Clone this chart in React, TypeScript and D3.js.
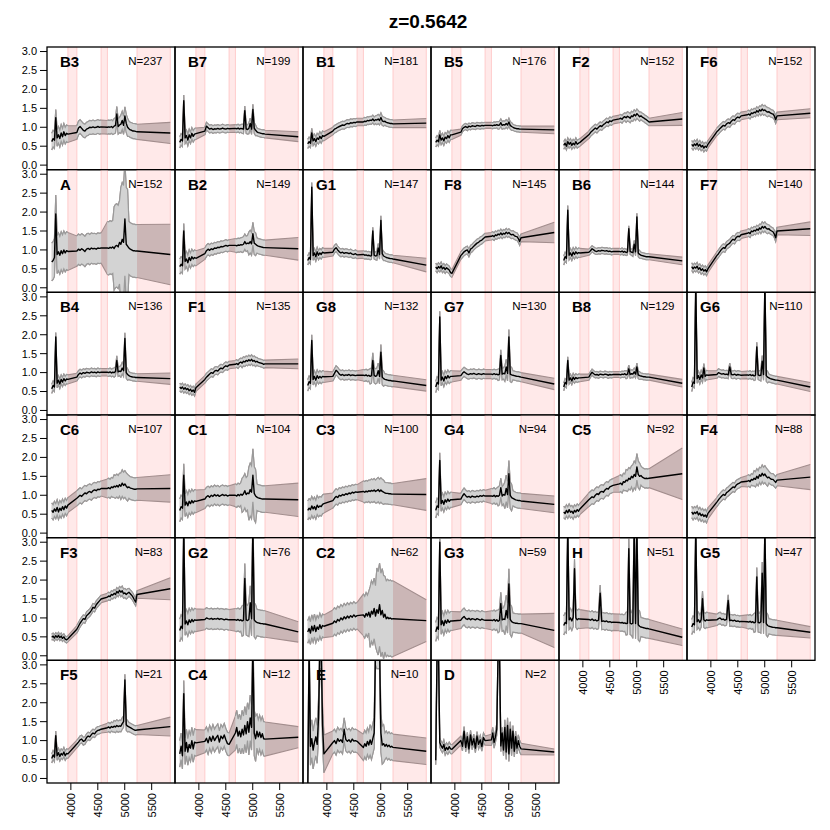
import React from 'react';
import * as d3 from 'd3';

// ---- data ----
const figureTitle = 'z=0.5642';

const groupNames = [
  'B3', 'B7', 'B1', 'B5', 'F2', 'F6',
  'A', 'B2', 'G1', 'F8', 'B6', 'F7',
  'B4', 'F1', 'G8', 'G7', 'B8', 'G6',
  'C6', 'C1', 'C3', 'G4', 'C5', 'F4',
  'F3', 'G2', 'C2', 'G3', 'H', 'G5',
  'F5', 'C4', 'E', 'D',
];
const groupCounts = [
  237, 199, 181, 176, 152, 152,
  152, 149, 147, 145, 144, 140,
  136, 135, 132, 130, 129, 110,
  107, 104, 100, 94, 92, 88,
  83, 76, 62, 59, 51, 47,
  21, 12, 10, 2,
];

// sampled wavelengths (Angstrom): blue piece, middle piece, red piece, far end
const blueWaves = [3645, 3670, 3695, 3720, 3745, 3770, 3795, 3820, 3845, 3870, 3895, 3920, 3945];
const midWaves = [4111, 4141, 4171, 4201, 4231, 4261, 4291, 4321, 4351, 4381, 4411, 4441, 4471, 4501, 4531, 4561];
const redWaves = [4678, 4703, 4728, 4753, 4778, 4803, 4828, 4853, 4878, 4903, 4928, 4953, 4978, 5003, 5028, 5053, 5078, 5103, 5128, 5153, 5178, 5203, 5228];
const tailWave = [5845];

const maskedBands = [[3945, 4111], [4561, 4678], [5228, 5845]];
const redSigmaBreaks = [4790, 4915, 5065];
const yTickValues = [0, 0.5, 1, 1.5, 2, 2.5, 3];
const xTickValues = [4000, 4500, 5000, 5500];

// mean flux per group (blue 13 | mid 16 | red 23 | end 1)
const meanFlux: number[][] = [
  // B3
  [0.62, 0.70, 0.66, 1.25, 0.72, 0.80, 0.70, 0.85, 0.75, 0.88, 0.78, 0.84, 0.82,
    0.86, 0.98, 1.02, 0.97, 0.92, 0.90, 0.95, 0.97, 1.00, 0.99, 1.01, 0.99, 1.00, 1.02, 1.00, 1.01,
    1.00, 1.01, 1.00, 1.02, 0.99, 1.03, 1.05, 1.35, 1.02, 1.06, 1.08, 1.18, 1.05, 1.30, 1.10, 1.00, 0.96, 0.93, 0.92, 0.90, 0.90, 0.89, 0.88,
    0.85],
  // B7
  [0.60, 0.68, 0.64, 1.70, 0.72, 0.78, 0.66, 0.80, 0.72, 0.84, 0.76, 0.82, 0.83,
    0.90, 1.03, 0.99, 0.95, 0.97, 0.94, 0.96, 0.95, 0.97, 0.95, 0.96, 0.98, 0.96, 0.95, 0.97, 0.96,
    0.97, 0.96, 0.98, 0.95, 0.97, 0.96, 0.95, 1.44, 0.96, 0.94, 0.97, 1.10, 0.95, 1.47, 0.98, 0.92, 0.88, 0.86, 0.85, 0.84, 0.83, 0.83, 0.82,
    0.75],
  // B1
  [0.56, 0.62, 0.58, 0.85, 0.64, 0.70, 0.62, 0.72, 0.68, 0.76, 0.70, 0.78, 0.76,
    0.90, 0.95, 0.97, 1.00, 1.02, 1.04, 1.06, 1.05, 1.08, 1.10, 1.09, 1.12, 1.11, 1.13, 1.12, 1.14,
    1.14, 1.16, 1.15, 1.18, 1.17, 1.19, 1.18, 1.22, 1.17, 1.20, 1.19, 1.22, 1.18, 1.26, 1.17, 1.15, 1.16, 1.13, 1.12, 1.11, 1.10, 1.10, 1.09,
    1.11],
  // B5
  [0.60, 0.66, 0.62, 0.80, 0.66, 0.72, 0.64, 0.74, 0.70, 0.78, 0.72, 0.80, 0.80,
    0.87, 0.96, 1.00, 1.02, 0.99, 1.03, 1.01, 1.04, 1.03, 1.02, 1.05, 1.04, 1.03, 1.05, 1.04, 1.05,
    1.05, 1.04, 1.06, 1.05, 1.07, 1.05, 1.06, 1.12, 1.05, 1.07, 1.06, 1.10, 1.06, 1.14, 1.05, 1.02, 1.00, 0.98, 0.97, 0.96, 0.96, 0.95, 0.95,
    0.93],
  // F2
  [0.52, 0.58, 0.50, 0.62, 0.55, 0.60, 0.52, 0.58, 0.54, 0.62, 0.55, 0.58, 0.60,
    0.80, 0.86, 0.90, 0.94, 0.98, 0.95, 1.00, 1.04, 1.02, 1.07, 1.10, 1.14, 1.12, 1.17, 1.15, 1.19,
    1.22, 1.24, 1.21, 1.26, 1.28, 1.25, 1.29, 1.27, 1.24, 1.30, 1.28, 1.34, 1.30, 1.36, 1.32, 1.28, 1.30, 1.27, 1.25, 1.22, 1.20, 1.17, 1.14,
    1.22],
  // F6
  [0.55, 0.50, 0.56, 0.52, 0.58, 0.50, 0.55, 0.48, 0.52, 0.45, 0.50, 0.47, 0.55,
    0.88, 0.92, 0.97, 1.01, 1.05, 1.03, 1.09, 1.12, 1.10, 1.16, 1.20, 1.18, 1.24, 1.27, 1.25, 1.30,
    1.33, 1.35, 1.32, 1.38, 1.36, 1.40, 1.38, 1.44, 1.40, 1.46, 1.43, 1.48, 1.44, 1.46, 1.42, 1.40, 1.41, 1.38, 1.36, 1.35, 1.30, 1.20, 1.30,
    1.37],
  // A
  [0.68, 0.72, 0.80, 1.95, 0.88, 0.95, 0.86, 0.98, 0.90, 1.00, 0.92, 0.98, 0.96,
    0.97, 1.02, 0.99, 1.03, 1.00, 0.96, 1.02, 1.04, 1.01, 1.05, 1.03, 1.04, 1.02, 1.05, 1.04, 1.05,
    1.05, 1.04, 1.07, 1.05, 1.08, 1.04, 1.10, 1.12, 1.08, 1.20, 1.15, 1.28, 1.20, 1.82, 1.15, 1.10, 1.05, 1.02, 1.00, 0.98, 0.98, 0.97, 0.97,
    0.88],
  // B2
  [0.56, 0.62, 0.58, 1.50, 0.70, 0.76, 0.66, 0.80, 0.72, 0.82, 0.76, 0.80, 0.78,
    0.90, 0.98, 1.02, 0.99, 1.03, 1.01, 1.05, 1.04, 1.07, 1.06, 1.09, 1.08, 1.10, 1.12, 1.10, 1.12,
    1.12, 1.11, 1.13, 1.12, 1.14, 1.13, 1.15, 1.22, 1.16, 1.18, 1.17, 1.22, 1.16, 1.43, 1.18, 1.15, 1.12, 1.10, 1.09, 1.08, 1.07, 1.06, 1.06,
    1.03],
  // G1
  [0.72, 0.80, 0.75, 2.66, 0.85, 0.92, 0.82, 0.95, 0.86, 0.92, 0.88, 0.94, 0.92,
    0.94, 1.02, 1.06, 1.00, 0.95, 0.92, 0.94, 0.91, 0.93, 0.92, 0.90, 0.92, 0.89, 0.88, 0.90, 0.87,
    0.88, 0.86, 0.87, 0.85, 0.86, 0.84, 0.85, 1.50, 0.86, 0.84, 0.85, 1.05, 0.88, 1.78, 0.90, 0.84, 0.82, 0.80, 0.79, 0.78, 0.77, 0.77, 0.76,
    0.60],
  // F8
  [0.55, 0.50, 0.56, 0.52, 0.58, 0.50, 0.54, 0.48, 0.53, 0.50, 0.47, 0.40, 0.38,
    0.85, 0.90, 0.95, 0.98, 1.00, 0.92, 1.02, 1.05, 1.10, 1.14, 1.18, 1.20, 1.24, 1.26, 1.30, 1.34,
    1.36, 1.38, 1.35, 1.40, 1.38, 1.42, 1.40, 1.45, 1.40, 1.44, 1.42, 1.47, 1.43, 1.46, 1.42, 1.40, 1.41, 1.38, 1.36, 1.35, 1.30, 1.22, 1.32,
    1.46],
  // B6
  [0.72, 0.82, 0.78, 2.05, 0.86, 0.92, 0.84, 0.94, 0.88, 0.95, 0.90, 0.93, 0.92,
    0.94, 0.98, 1.03, 1.00, 0.97, 0.96, 0.98, 0.97, 0.99, 0.98, 0.97, 0.98, 0.96, 0.97, 0.95, 0.96,
    0.96, 0.95, 0.97, 0.94, 0.96, 0.93, 0.95, 1.56, 0.96, 0.94, 0.93, 1.15, 0.95, 1.87, 0.92, 0.88, 0.86, 0.85, 0.84, 0.83, 0.82, 0.82, 0.82,
    0.71],
  // F7
  [0.56, 0.50, 0.55, 0.52, 0.57, 0.49, 0.53, 0.46, 0.50, 0.44, 0.48, 0.42, 0.50,
    0.85, 0.90, 0.96, 1.02, 1.06, 1.04, 1.12, 1.15, 1.18, 1.24, 1.28, 1.26, 1.33, 1.36, 1.35, 1.40,
    1.44, 1.46, 1.43, 1.50, 1.48, 1.52, 1.50, 1.55, 1.52, 1.58, 1.55, 1.62, 1.58, 1.62, 1.57, 1.55, 1.56, 1.52, 1.50, 1.48, 1.42, 1.32, 1.50,
    1.56],
  // B4
  [0.57, 0.66, 0.62, 1.94, 0.72, 0.80, 0.70, 0.82, 0.75, 0.84, 0.78, 0.83, 0.82,
    0.88, 0.95, 0.99, 0.96, 1.00, 0.98, 1.01, 1.00, 0.99, 1.02, 1.00, 1.01, 0.99, 1.02, 1.00, 1.01,
    1.01, 1.00, 1.02, 0.99, 1.01, 1.00, 1.03, 1.32, 1.02, 1.04, 1.03, 1.12, 1.05, 1.90, 1.00, 0.95, 0.92, 0.90, 0.89, 0.88, 0.88, 0.87, 0.87,
    0.84],
  // F1
  [0.62, 0.58, 0.62, 0.56, 0.60, 0.55, 0.58, 0.52, 0.56, 0.50, 0.54, 0.48, 0.60,
    0.82, 0.88, 0.92, 0.96, 1.00, 0.98, 1.04, 1.06, 1.04, 1.09, 1.12, 1.10, 1.15, 1.18, 1.16, 1.20,
    1.22, 1.24, 1.21, 1.26, 1.28, 1.25, 1.30, 1.28, 1.32, 1.30, 1.34, 1.31, 1.35, 1.30, 1.32, 1.28, 1.30, 1.27, 1.26, 1.25, 1.24, 1.22, 1.23,
    1.23],
  // G8
  [0.66, 0.76, 0.72, 1.85, 0.82, 0.90, 0.80, 0.92, 0.85, 0.90, 0.86, 0.90, 0.89,
    0.90, 0.98, 1.06, 1.02, 0.96, 0.93, 0.95, 0.92, 0.94, 0.93, 0.95, 0.92, 0.94, 0.93, 0.92, 0.93,
    0.93, 0.92, 0.94, 0.91, 0.93, 0.90, 0.92, 1.32, 0.93, 0.90, 0.92, 1.05, 0.90, 1.54, 0.88, 0.84, 0.82, 0.81, 0.80, 0.79, 0.79, 0.78, 0.78,
    0.66],
  // G7
  [0.62, 0.74, 0.70, 2.47, 0.80, 0.88, 0.78, 0.90, 0.84, 0.92, 0.86, 0.90, 0.90,
    0.92, 0.98, 1.02, 0.99, 0.96, 0.95, 0.97, 0.96, 0.98, 0.96, 0.95, 0.97, 0.96, 0.95, 0.97, 0.96,
    0.96, 0.95, 0.97, 0.95, 0.96, 0.94, 0.96, 1.45, 0.96, 0.98, 0.97, 1.15, 0.98, 1.94, 0.96, 0.94, 0.93, 0.92, 0.91, 0.90, 0.90, 0.89, 0.88,
    0.70],
  // B8
  [0.62, 0.74, 0.70, 1.32, 0.80, 0.86, 0.78, 0.88, 0.82, 0.87, 0.84, 0.86, 0.86,
    0.88, 0.95, 1.01, 0.97, 0.94, 0.95, 0.93, 0.96, 0.95, 0.94, 0.96, 0.95, 0.93, 0.95, 0.94, 0.95,
    0.95, 0.94, 0.96, 0.95, 0.97, 0.94, 0.96, 1.10, 0.95, 0.97, 0.96, 1.02, 0.96, 1.15, 0.94, 0.92, 0.91, 0.90, 0.89, 0.89, 0.88, 0.88, 0.88,
    0.72],
  // G6
  [0.62, 0.75, 0.72, 3.40, 0.84, 0.92, 0.82, 0.94, 0.86, 1.12, 0.90, 0.94, 0.93,
    0.95, 1.00, 0.98, 0.96, 0.97, 0.95, 0.96, 0.94, 1.15, 0.95, 0.94, 0.96, 0.93, 0.95, 0.94, 0.93,
    0.94, 0.93, 0.95, 0.92, 0.94, 0.91, 0.93, 1.68, 0.94, 0.92, 0.93, 1.30, 0.95, 3.40, 0.92, 0.88, 0.86, 0.84, 0.83, 0.82, 0.81, 0.80, 0.80,
    0.62],
  // C6
  [0.60, 0.55, 0.64, 0.58, 0.68, 0.56, 0.66, 0.60, 0.70, 0.62, 0.72, 0.66, 0.74,
    0.92, 0.96, 1.00, 0.97, 1.02, 1.06, 1.04, 1.08, 1.10, 1.07, 1.12, 1.14, 1.12, 1.16, 1.15, 1.18,
    1.18, 1.20, 1.17, 1.22, 1.20, 1.24, 1.22, 1.26, 1.22, 1.28, 1.24, 1.32, 1.26, 1.30, 1.24, 1.20, 1.22, 1.19, 1.18, 1.17, 1.16, 1.16, 1.17,
    1.18],
  // C1
  [0.60, 0.70, 0.66, 1.53, 0.74, 0.82, 0.72, 0.84, 0.78, 0.86, 0.80, 0.85, 0.84,
    0.90, 0.96, 0.99, 0.95, 1.00, 0.97, 1.02, 0.98, 1.01, 0.97, 1.00, 1.02, 0.99, 1.01, 0.98, 1.00,
    1.00, 0.98, 1.02, 0.99, 1.03, 1.00, 1.04, 1.12, 1.02, 1.06, 1.04, 1.15, 1.08, 1.53, 1.05, 0.98, 0.95, 0.93, 0.92, 0.91, 0.90, 0.90, 0.90,
    0.88],
  // C3
  [0.60, 0.66, 0.62, 0.72, 0.64, 0.70, 0.62, 0.74, 0.68, 0.72, 0.70, 0.76, 0.78,
    0.86, 0.92, 0.97, 0.94, 1.00, 0.98, 1.02, 1.00, 1.04, 1.02, 1.06, 1.04, 1.08, 1.06, 1.09, 1.08,
    1.10, 1.08, 1.11, 1.09, 1.12, 1.10, 1.13, 1.11, 1.14, 1.10, 1.12, 1.15, 1.10, 1.14, 1.10, 1.08, 1.06, 1.05, 1.05, 1.04, 1.04, 1.03, 1.03,
    1.02],
  // G4
  [0.60, 0.72, 0.68, 1.92, 0.78, 0.86, 0.76, 0.88, 0.82, 0.90, 0.84, 0.88, 0.88,
    0.90, 0.98, 1.04, 0.99, 0.95, 0.97, 0.94, 0.98, 0.96, 0.95, 0.98, 0.96, 0.99, 0.97, 1.00, 0.98,
    0.98, 0.97, 1.00, 0.96, 0.99, 0.97, 1.00, 1.20, 0.98, 1.02, 1.00, 1.18, 1.02, 1.57, 1.00, 0.94, 0.92, 0.90, 0.88, 0.87, 0.86, 0.86, 0.85,
    0.76],
  // C5
  [0.56, 0.52, 0.60, 0.54, 0.62, 0.55, 0.58, 0.52, 0.60, 0.56, 0.62, 0.58, 0.64,
    0.88, 0.92, 0.96, 0.94, 1.00, 1.04, 1.02, 1.08, 1.10, 1.08, 1.14, 1.18, 1.16, 1.22, 1.24, 1.26,
    1.30, 1.32, 1.28, 1.36, 1.34, 1.40, 1.38, 1.45, 1.42, 1.50, 1.46, 1.55, 1.50, 1.75, 1.55, 1.50, 1.52, 1.48, 1.46, 1.44, 1.45, 1.44, 1.45,
    1.57],
  // F4
  [0.56, 0.50, 0.55, 0.52, 0.57, 0.48, 0.53, 0.46, 0.50, 0.44, 0.48, 0.42, 0.52,
    0.82, 0.88, 0.93, 0.98, 1.02, 1.00, 1.07, 1.10, 1.14, 1.18, 1.22, 1.20, 1.27, 1.30, 1.32, 1.35,
    1.37, 1.39, 1.36, 1.42, 1.40, 1.45, 1.42, 1.50, 1.45, 1.54, 1.50, 1.58, 1.52, 1.56, 1.50, 1.46, 1.48, 1.44, 1.42, 1.42, 1.38, 1.34, 1.40,
    1.48],
  // F3
  [0.49, 0.52, 0.47, 0.53, 0.49, 0.54, 0.48, 0.52, 0.46, 0.50, 0.44, 0.42, 0.45,
    0.70, 0.78, 0.86, 0.92, 0.98, 0.96, 1.06, 1.10, 1.14, 1.20, 1.28, 1.26, 1.35, 1.40, 1.45, 1.50,
    1.55, 1.58, 1.56, 1.62, 1.60, 1.65, 1.62, 1.70, 1.66, 1.73, 1.68, 1.72, 1.64, 1.66, 1.62, 1.65, 1.68, 1.64, 1.60, 1.55, 1.48, 1.42, 1.62,
    1.77],
  // G2
  [0.67, 0.78, 0.72, 3.40, 0.84, 0.92, 0.82, 0.95, 0.88, 0.96, 0.90, 0.95, 0.94,
    0.96, 1.00, 0.98, 0.97, 0.99, 0.96, 0.98, 0.97, 0.99, 0.96, 0.98, 0.97, 0.95, 0.97, 0.96, 0.95,
    0.95, 0.94, 0.96, 0.93, 0.95, 0.92, 0.94, 2.04, 0.95, 0.93, 0.96, 1.40, 0.98, 3.40, 0.95, 0.90, 0.88, 0.87, 0.86, 0.85, 0.85, 0.84, 0.84,
    0.63],
  // C2
  [0.63, 0.72, 0.60, 0.78, 0.66, 0.80, 0.64, 0.76, 0.70, 0.82, 0.72, 0.80, 0.78,
    0.86, 0.92, 0.88, 0.96, 0.92, 1.00, 0.95, 1.03, 0.98, 1.05, 1.00, 1.06, 1.02, 1.08, 1.03, 1.06,
    1.08, 1.02, 1.12, 1.05, 1.15, 1.02, 1.18, 1.10, 1.25, 1.05, 1.22, 1.12, 1.35, 1.08, 1.20, 1.02, 1.10, 0.98, 1.02, 0.98, 1.00, 0.97, 0.98,
    0.93],
  // G3
  [0.63, 0.76, 0.70, 3.00, 0.82, 0.92, 0.80, 0.94, 0.86, 0.95, 0.88, 0.92, 0.92,
    0.94, 1.00, 1.04, 0.98, 0.96, 0.99, 0.95, 0.98, 0.97, 0.95, 0.98, 0.96, 0.94, 0.97, 0.95, 0.94,
    0.94, 0.93, 0.96, 0.92, 0.95, 0.91, 0.94, 1.38, 0.95, 0.97, 0.96, 1.20, 1.00, 1.90, 0.96, 0.90, 0.88, 0.87, 0.86, 0.86, 0.85, 0.85, 0.85,
    0.67],
  // H
  [0.80, 0.88, 0.85, 3.40, 0.95, 1.00, 0.92, 1.02, 2.30, 1.00, 0.95, 0.98, 0.97,
    0.96, 0.94, 0.97, 0.93, 0.95, 0.92, 0.94, 1.65, 0.91, 0.92, 0.90, 0.92, 0.89, 0.90, 0.88, 0.89,
    0.88, 0.87, 0.88, 0.86, 0.87, 0.85, 0.86, 2.83, 0.86, 0.84, 0.86, 3.40, 0.85, 3.40, 0.82, 0.78, 0.76, 0.75, 0.74, 0.73, 0.72, 0.72, 0.71,
    0.49],
  // G5
  [0.76, 0.85, 0.82, 3.40, 0.90, 0.95, 0.88, 0.96, 1.51, 0.95, 0.92, 0.95, 0.94,
    0.95, 0.98, 1.00, 0.96, 0.97, 0.94, 0.96, 1.46, 0.93, 0.94, 0.92, 0.94, 0.91, 0.92, 0.90, 0.91,
    0.90, 0.89, 0.91, 0.88, 0.90, 0.87, 0.89, 2.08, 0.88, 0.87, 0.90, 2.18, 0.88, 3.40, 0.85, 0.80, 0.78, 0.77, 0.76, 0.75, 0.75, 0.74, 0.74,
    0.62],
  // F5
  [0.53, 0.62, 0.56, 1.13, 0.60, 0.68, 0.58, 0.66, 0.62, 0.70, 0.60, 0.66, 0.65,
    0.91, 0.96, 1.02, 1.04, 0.98, 1.00, 1.08, 1.12, 1.10, 1.16, 1.20, 1.18, 1.24, 1.27, 1.28, 1.30,
    1.34, 1.36, 1.33, 1.37, 1.35, 1.38, 1.36, 1.40, 1.37, 1.39, 1.38, 1.45, 1.50, 2.60, 1.42, 1.38, 1.36, 1.34, 1.32, 1.30, 1.28, 1.27, 1.28,
    1.37],
  // C4
  [0.65, 0.85, 0.60, 2.24, 0.72, 0.95, 0.70, 0.90, 0.80, 1.00, 0.78, 0.96, 0.94,
    0.98, 1.06, 0.94, 1.10, 0.98, 1.12, 1.00, 1.08, 1.14, 0.96, 1.12, 1.05, 1.15, 1.02, 0.92, 0.90,
    1.20, 1.35, 1.12, 1.25, 1.10, 1.30, 1.15, 1.40, 1.18, 1.50, 1.22, 1.60, 1.35, 3.40, 1.20, 1.05, 1.25, 1.10, 1.22, 1.08, 1.18, 1.05, 1.04,
    1.09],
  // E
  [-0.30, 3.40, 0.85, 1.05, 0.75, 0.95, 1.10, 0.90, 1.60, 3.40, 3.40, 1.40, 0.65,
    0.95, 1.00, 0.92, 1.05, 0.98, 1.02, 0.95, 1.30, 1.03, 0.98, 1.02, 0.96, 1.04, 0.99, 1.00, 0.98,
    0.82, 0.92, 0.85, 0.98, 0.88, 1.02, 0.90, 1.05, 1.20, 3.40, 3.40, 3.40, 3.40, 1.20, 0.88, 0.92, 0.85, 0.90, 0.84, 0.88, 0.83, 0.85, 0.82,
    0.72],
  // D
  [0.48, 3.40, 3.40, 0.95, 0.86, 0.80, 0.90, 0.74, 0.82, 0.76, 0.84, 0.78, 0.77,
    1.00, 0.85, 1.25, 0.82, 1.10, 0.78, 1.15, 0.88, 1.05, 0.80, 1.12, 0.90, 1.02, 0.84, 1.08, 1.00,
    1.02, 1.20, 0.95, 1.10, 1.30, 3.40, 3.40, 0.86, 1.20, 0.75, 1.35, 0.70, 1.40, 0.65, 1.30, 0.80, 1.25, 0.72, 1.10, 0.80, 1.00, 0.85, 0.78,
    0.70],
];

// scatter half-width: blue, mid, red<4790, red<4915, red<5065, red rest, far end
const scatter: number[][] = [
  [0.22, 0.18, 0.18, 0.2, 0.24, 0.2, 0.28], // B3
  [0.15, 0.1, 0.1, 0.12, 0.14, 0.1, 0.13], // B7
  [0.12, 0.1, 0.1, 0.1, 0.12, 0.1, 0.12], // B1
  [0.12, 0.08, 0.08, 0.1, 0.1, 0.08, 0.1], // B5
  [0.1, 0.1, 0.1, 0.12, 0.12, 0.1, 0.17], // F2
  [0.1, 0.1, 0.1, 0.1, 0.12, 0.1, 0.12], // F6
  [0.5, 0.4, 0.7, 1.1, 1.5, 0.7, 0.8], // A
  [0.2, 0.15, 0.18, 0.2, 0.3, 0.2, 0.3], // B2
  [0.12, 0.1, 0.1, 0.1, 0.12, 0.1, 0.18], // G1
  [0.1, 0.1, 0.1, 0.1, 0.1, 0.1, 0.27], // F8
  [0.12, 0.08, 0.08, 0.08, 0.1, 0.08, 0.1], // B6
  [0.1, 0.1, 0.1, 0.1, 0.12, 0.1, 0.18], // F7
  [0.12, 0.1, 0.1, 0.12, 0.15, 0.1, 0.15], // B4
  [0.1, 0.1, 0.1, 0.12, 0.12, 0.1, 0.13], // F1
  [0.15, 0.12, 0.15, 0.2, 0.2, 0.15, 0.15], // G8
  [0.15, 0.12, 0.12, 0.15, 0.2, 0.12, 0.15], // G7
  [0.1, 0.08, 0.08, 0.1, 0.1, 0.08, 0.1], // B8
  [0.12, 0.1, 0.1, 0.12, 0.15, 0.1, 0.12], // G6
  [0.2, 0.2, 0.25, 0.3, 0.35, 0.3, 0.36], // C6
  [0.3, 0.25, 0.3, 0.45, 0.7, 0.35, 0.44], // C1
  [0.25, 0.2, 0.28, 0.3, 0.32, 0.28, 0.42], // C3
  [0.2, 0.15, 0.2, 0.25, 0.35, 0.2, 0.22], // G4
  [0.15, 0.18, 0.22, 0.28, 0.35, 0.25, 0.68], // C5
  [0.15, 0.12, 0.15, 0.2, 0.22, 0.15, 0.33], // F4
  [0.08, 0.1, 0.1, 0.1, 0.12, 0.1, 0.29], // F3
  [0.3, 0.27, 0.3, 0.4, 0.45, 0.35, 0.27], // G2
  [0.3, 0.35, 0.55, 0.8, 1.1, 1.0, 0.55], // C2
  [0.25, 0.22, 0.25, 0.3, 0.4, 0.25, 0.45], // G3
  [0.25, 0.22, 0.22, 0.3, 0.4, 0.25, 0.22], // H
  [0.2, 0.15, 0.18, 0.25, 0.3, 0.2, 0.15], // G5
  [0.12, 0.1, 0.12, 0.15, 0.15, 0.12, 0.25], // F5
  [0.35, 0.3, 0.45, 0.5, 0.6, 0.45, 0.28], // C4
  [0.5, 0.3, 0.35, 0.4, 0.5, 0.35, 0.35], // E
  [0.12, 0.12, 0.15, 0.15, 0.2, 0.15, 0.08], // D
];

// ---- layout ----
const WIDTH = 830;
const HEIGHT = 830;
const LEFT = 47;
const TOP = 47;
const NCOL = 6;
const CELL_W = 128;
const CELL_H = 736 / 6;
const FONT = '"Liberation Sans", Arial, Helvetica, sans-serif';

const waves = [...blueWaves, ...midWaves, ...redWaves, ...tailWave];
const nB = blueWaves.length;
const nM = midWaves.length;
const nR = redWaves.length;
const pieces = [[0, nB], [nB, nB + nM], [nB + nM, nB + nM + nR]];

// R-style 4% padding on both axes
const x = d3.scaleLinear().domain([3645 - 88, 5845 + 88]).range([0, CELL_W]);
const y = d3.scaleLinear().domain([-0.12, 3.12]).range([CELL_H, 0]);

interface Pt { w: number; m: number; s: number; }

function scatterAt(s: number[], k: number) {
  if (k < nB) return s[0];
  if (k < nB + nM) return s[1];
  if (k < nB + nM + nR) {
    const w = waves[k];
    if (w < redSigmaBreaks[0]) return s[2];
    if (w < redSigmaBreaks[1]) return s[3];
    if (w < redSigmaBreaks[2]) return s[4];
    return s[5];
  }
  return s[6];
}

const band = d3.area<Pt>().x((d) => x(d.w)).y0((d) => y(d.m - d.s)).y1((d) => y(d.m + d.s));
const upper = d3.line<Pt>().x((d) => x(d.w)).y((d) => y(d.m + d.s));
const lower = d3.line<Pt>().x((d) => x(d.w)).y((d) => y(d.m - d.s));
const meanLine = d3.line<Pt>().x((d) => x(d.w)).y((d) => y(d.m));

function Panel({ i }: { i: number }) {
  const col = i % NCOL;
  const row = Math.floor(i / NCOL);
  const x0 = LEFT + col * CELL_W;
  const y0 = TOP + row * CELL_H;
  const f = meanFlux[i];
  const s = scatter[i];
  const pts: Pt[] = waves.map((w, k) => ({ w, m: f[k], s: scatterAt(s, k) }));
  const isBottom = i + NCOL >= groupNames.length;

  return (
    <g transform={`translate(${x0},${y0})`}>
      <defs>
        <clipPath id={`clip${i}`}>
          <rect x={0} y={0} width={CELL_W} height={CELL_H} />
        </clipPath>
      </defs>
      <g clipPath={`url(#clip${i})`}>
        {maskedBands.map(([a, b], k) => (
          <rect key={k} x={x(a)} y={-2} width={x(b) - x(a)} height={CELL_H + 4}
            fill="#ffe9e9" stroke="#ffcccc" strokeWidth={1} />
        ))}
        {/* interpolated (masked) envelope */}
        <path d={band(pts) || ''} fill="#cbb6b6" />
        <path d={upper(pts) || ''} fill="none" stroke="#a38e8e" strokeWidth={1.1} />
        <path d={lower(pts) || ''} fill="none" stroke="#a38e8e" strokeWidth={1.1} />
        {pieces.map(([a, b], k) => {
          const seg = pts.slice(a, b);
          return (
            <g key={k}>
              <path d={band(seg) || ''} fill="#d3d3d3" />
              <path d={upper(seg) || ''} fill="none" stroke="#9a9a9a" strokeWidth={1.2} />
              <path d={lower(seg) || ''} fill="none" stroke="#9a9a9a" strokeWidth={1.2} />
            </g>
          );
        })}
        <path d={meanLine(pts) || ''} fill="none" stroke="#000" strokeWidth={1.4} strokeLinejoin="round" />
      </g>
      <rect x={0} y={0} width={CELL_W} height={CELL_H} fill="none" stroke="#000" strokeWidth={1.3} />
      <text x={13} y={20} fontFamily={FONT} fontWeight="bold" fontSize={15}>{groupNames[i]}</text>
      <text x={CELL_W - 12.5} y={18} fontFamily={FONT} fontSize={11.5} textAnchor="end">N={groupCounts[i]}</text>
      {col === 0 && yTickValues.map((t) => (
        <g key={t} transform={`translate(0,${y(t)})`}>
          <line x1={-7} x2={0} stroke="#000" strokeWidth={1} />
          <text x={-10} dy="0.35em" fontFamily={FONT} fontSize={11} textAnchor="end">{t.toFixed(1)}</text>
        </g>
      ))}
      {isBottom && xTickValues.map((t) => (
        <g key={t} transform={`translate(${x(t)},${CELL_H})`}>
          <line y1={0} y2={7} stroke="#000" strokeWidth={1} />
          <text transform="translate(0,10) rotate(-90)" dy="0.35em" fontFamily={FONT} fontSize={11} textAnchor="end">{t}</text>
        </g>
      ))}
    </g>
  );
}

export default function App() {
  return (
    <svg width={WIDTH} height={HEIGHT} style={{ position: 'absolute', left: 0, top: 0, background: '#fff' }}>
      <rect width={WIDTH} height={HEIGHT} fill="#fff" />
      <text x={428} y={28} textAnchor="middle" fontFamily={FONT} fontWeight="bold" fontSize={19}>{figureTitle}</text>
      {groupNames.map((_, i) => <Panel key={i} i={i} />)}
    </svg>
  );
}
